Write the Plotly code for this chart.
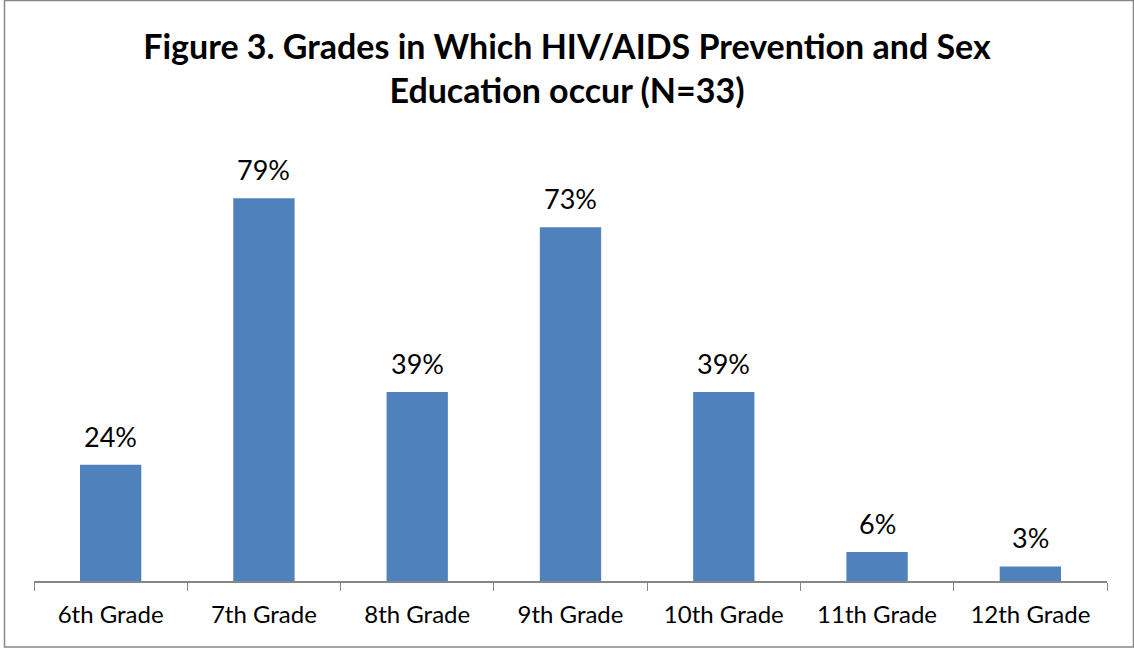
import plotly.graph_objects as go

categories = ["6th Grade", "7th Grade", "8th Grade", "9th Grade", "10th Grade", "11th Grade", "12th Grade"]
values = [24, 79, 39, 73, 39, 6, 3]
labels = ["24%", "79%", "39%", "73%", "39%", "6%", "3%"]

W, H = 1134, 648
ml, mr, mt, mb = 34, 27, 145, 67
pw, ph = W - ml - mr, H - mt - mb

FONT = "Lato, 'Open Sans', sans-serif"

fig = go.Figure()
fig.add_trace(go.Bar(x=categories, y=values, marker=dict(color="#4F81BD", line=dict(width=0)),
                     width=0.4, hoverinfo="x+y"))

for c, v, t in zip(categories, values, labels):
    fig.add_annotation(x=c, y=v, text=t, showarrow=False, yanchor="bottom", yshift=10,
                       font=dict(family=FONT, size=27, color="#000000"))

# chart border
fig.add_shape(type="rect", xref="paper", yref="paper",
              x0=(4.5 - ml) / pw, x1=(1133.5 - ml) / pw,
              y0=-(647 - (H - mb)) / ph, y1=1 + (mt - 0.5) / ph,
              line=dict(color="#878787", width=1.5), fillcolor="rgba(0,0,0,0)")

fig.update_layout(
    width=W, height=H,
    margin=dict(l=ml, r=mr, t=mt, b=mb),
    paper_bgcolor="white", plot_bgcolor="white",
    showlegend=False,
    title=dict(text="<b>Figure 3. Grades in Which HIV/AIDS Prevention and Sex<br>Education occur (N=33)</b>",
               x=0.5, xanchor="center", y=1 - 59 / H, yanchor="middle",
               font=dict(family=FONT, size=34, color="#000000")),
    xaxis=dict(type="category", showline=True, linecolor="#868686", linewidth=1.5,
               ticks="outside", ticklen=8, tickcolor="#868686", tickson="boundaries",
               ticklabelstandoff=11,
               showgrid=False, tickfont=dict(family=FONT, size=24, color="#000000")),
    yaxis=dict(range=[0, 90], visible=False, showgrid=False, zeroline=False),
)

fig.write_html("out.html", config={"displayModeBar": False},
               post_script="document.body.style.margin='0';document.body.style.overflow='hidden';")
